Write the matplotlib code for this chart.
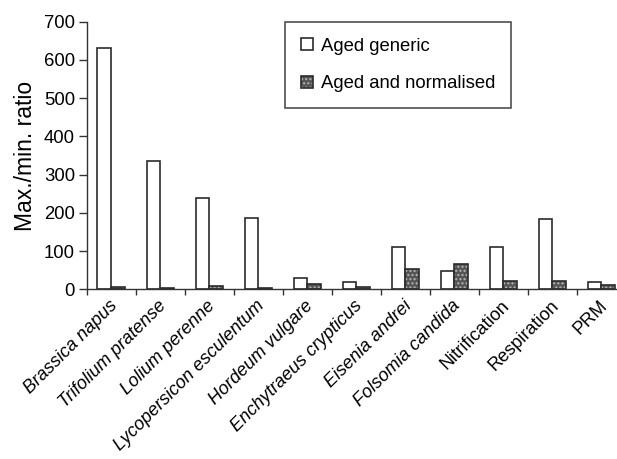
import matplotlib
matplotlib.use('Agg')
import matplotlib.pyplot as plt
import numpy as np

plt.rcParams['font.family'] = 'Liberation Sans'

# Data
categories = ['Brassica napus', 'Trifolium pratense', 'Lolium perenne',
              'Lycopersicon esculentum', 'Hordeum vulgare', 'Enchytraeus crypticus',
              'Eisenia andrei', 'Folsomia candida', 'Nitrification', 'Respiration', 'PRM']
italic_flags = [True, True, True, True, True, True, True, True, False, False, False]
aged_generic = [630, 335, 240, 187, 30, 20, 110, 48, 110, 183, 20]
aged_normalised = [5, 4, 8, 4, 15, 5, 54, 66, 23, 22, 10]
y_ticks = [0, 100, 200, 300, 400, 500, 600, 700]

fig = plt.figure(figsize=(6.17, 4.59), dpi=100)
ax = fig.add_axes([0.1405, 0.3697, 1.0146 - 0.1405, 0.9527 - 0.3697])

x = np.arange(len(categories))
w = 0.28
edge = '#2b2b2b'

b1 = ax.bar(x - w / 2, aged_generic, w, facecolor='white', edgecolor=edge, linewidth=1.2)
# normalised bars: dark fill with light dotted hatch, then dark outline on top
b2 = ax.bar(x + w / 2, aged_normalised, w, facecolor='#555555', edgecolor='#b5b5b5',
            hatch='....', linewidth=0)
b3 = ax.bar(x + w / 2, aged_normalised, w, fill=False, edgecolor=edge, linewidth=1.2)

ax.set_xlim(-0.5, len(categories) - 0.5)
ax.set_ylim(0, 700)
ax.set_yticks(y_ticks)
ax.tick_params(axis='y', labelsize=13.3, length=5.5, width=1, color='#333333', pad=3)

# x ticks at category boundaries, labels at centres
ax.set_xticks(np.arange(len(categories) + 1) - 0.5)
ax.set_xticklabels([])
ax.tick_params(axis='x', length=4, width=1, color='#333333')
for xi, name, it in zip(x, categories, italic_flags):
    ax.text(xi + 0.07, -0.052, name, transform=ax.get_xaxis_transform(),
            rotation=45, ha='right', va='center', rotation_mode='anchor',
            fontsize=13.1, style='italic' if it else 'normal')

ax.set_ylabel('Max./min. ratio', fontsize=16.5, labelpad=5)

for s in ['top', 'right']:
    ax.spines[s].set_visible(False)
for s in ['left', 'bottom']:
    ax.spines[s].set_color('#333333')
    ax.spines[s].set_linewidth(1)

leg = ax.legend([b1[0], (b2[0], b3[0])], ['Aged generic', 'Aged and normalised'],
                loc='upper left', bbox_to_anchor=(0.4619, 0.952), bbox_transform=fig.transFigure,
                borderaxespad=0, fontsize=13.3, fancybox=False, frameon=True,
                handlelength=0.65, handleheight=0.65, handletextpad=0.45,
                labelspacing=1.12, borderpad=0.85)
leg.get_frame().set_edgecolor('#222222')
leg.get_frame().set_linewidth(1.2)

fig.savefig('out.png', dpi=100)
